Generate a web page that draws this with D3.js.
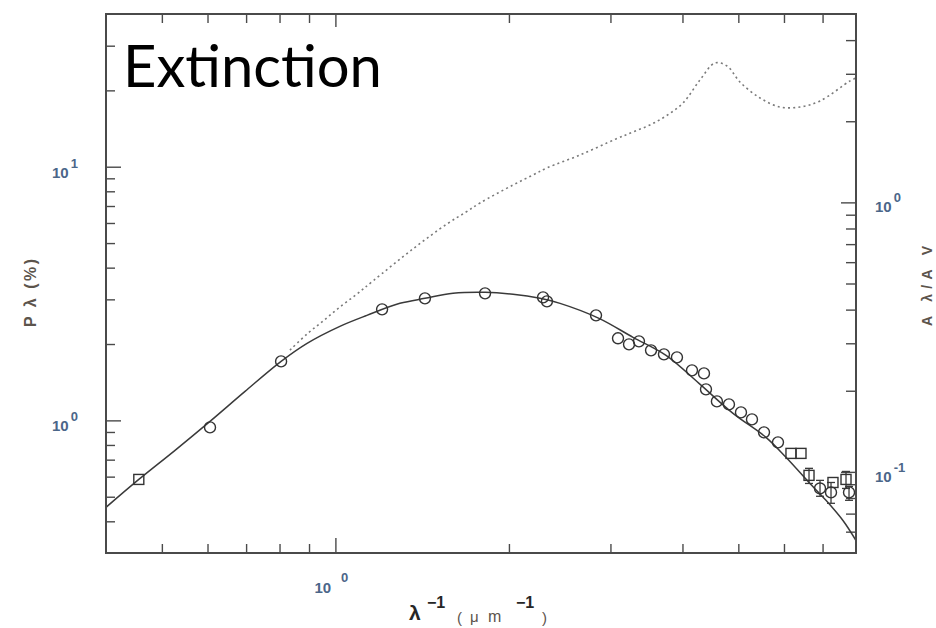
<!DOCTYPE html>
<html>
<head>
<meta charset="utf-8">
<script src="https://cdn.jsdelivr.net/npm/d3@7"></script>
<style>
  html, body { margin: 0; padding: 0; background: #fff; overflow: hidden; }
  svg { display: block; }
</style>
</head>
<body>
<svg id="chart" width="936" height="628"></svg>
<script>
// ---- axis ranges (inverse wavelength in µm^-1, polarization in %, extinction A/Av)
const xDomain = [0.4, 8];
const pDomain = [0.3, 40];
const aDomain = [0.05, 5];

// ---- tick values
const xMajorTicks = [1];
const xMinorTicks = [0.5, 0.6, 0.7, 0.8, 0.9, 2, 3, 4, 5, 6, 7];
const pMajorTicks = [1, 10];
const pMinorTicks = [0.4, 0.5, 0.6, 0.7, 0.8, 0.9, 2, 3, 4, 5, 6, 7, 8, 9, 20, 30];
const aMajorTicks = [0.1, 1];
const aMinorTicks = [0.06, 0.07, 0.08, 0.09, 0.2, 0.3, 0.4, 0.5, 0.6, 0.7, 0.8, 0.9, 2, 3, 4];

// ---- tick labels (mantissa, exponent), in the same order as the major ticks
const xTickLabels = [["10", "0"]];
const pTickLabels = [["10", "0"], ["10", "1"]];
const aTickLabels = [["10", "-1"], ["10", "0"]];

// ---- observed polarization, open circles
const circleX = [0.606, 0.805, 1.205, 1.430, 1.818, 2.292, 2.328, 2.832, 3.092, 3.231,
                 3.362, 3.528, 3.715, 3.913, 4.155, 4.359, 4.394, 4.590, 4.816, 5.053,
                 5.280, 5.540, 5.858, 6.929, 7.240, 7.780];
const circleP = [0.938, 1.708, 2.740, 3.027, 3.168, 3.055, 2.946, 2.594, 2.106, 1.994,
                 2.049, 1.888, 1.821, 1.772, 1.575, 1.532, 1.325, 1.188, 1.156, 1.075,
                 1.009, 0.897, 0.819, 0.539, 0.520, 0.520];

// ---- observed polarization, open squares
const squareX = [0.456, 6.170, 6.422, 6.631, 7.297, 7.687];
const squareP = [0.585, 0.741, 0.741, 0.607, 0.569, 0.585];

// ---- error bars on the far-UV points
const errX  = [6.631, 6.929, 7.240, 7.687, 7.780];
const errLo = [0.564, 0.502, 0.471, 0.539, 0.484];
const errHi = [0.647, 0.580, 0.569, 0.629, 0.549];

// ---- fitted polarization curve (solid)
const fitX = [0.400, 0.456, 0.527, 0.606, 0.697, 0.805, 0.893, 1.018, 1.134, 1.294,
              1.430, 1.600, 1.818, 2.033, 2.264, 2.453, 2.866, 3.283, 3.746, 4.273,
              4.895, 5.584, 6.048, 6.631, 7.096, 7.594, 8.000];
const fitP = [0.454, 0.585, 0.762, 0.991, 1.301, 1.708, 2.012, 2.348, 2.594, 2.893,
              3.027, 3.168, 3.197, 3.140, 3.027, 2.893, 2.525, 2.125, 1.804, 1.399,
              1.066, 0.857, 0.715, 0.569, 0.484, 0.403, 0.336];

// ---- interstellar extinction curve A(lambda)/A(V) (dotted, right axis)
const extX = [0.834, 0.893, 0.952, 1.018, 1.090, 1.162, 1.363, 1.562, 1.685, 1.782,
              2.033, 2.202, 2.328, 2.657, 3.067, 3.283, 3.513, 3.746, 4.009, 4.290,
              4.555, 4.779, 5.032, 5.452, 5.905, 6.397, 6.929, 7.808, 8.000];
const extA = [0.283, 0.325, 0.363, 0.409, 0.457, 0.511, 0.672, 0.832, 0.921, 0.995,
              1.160, 1.264, 1.342, 1.499, 1.719, 1.825, 1.938, 2.092, 2.338, 2.846,
              3.291, 3.207, 2.798, 2.440, 2.259, 2.259, 2.378, 2.822, 2.894];

// ---- layout
const plot = { left: 106, right: 856, top: 14, bottom: 553 };
const frameColor = "#4a4a4a";
const tickLabelColor = "#4b6689";
const titleColor = "#5c544c";
const sansFont = "'Liberation Sans', Arial, sans-serif";

const svg = d3.select("#chart");

const x  = d3.scaleLog().domain(xDomain).range([plot.left, plot.right]);
const yP = d3.scaleLog().domain(pDomain).range([plot.bottom, plot.top]);
const yA = d3.scaleLog().domain(aDomain).range([plot.bottom, plot.top]);

svg.append("defs").append("clipPath").attr("id", "plot-clip")
  .append("rect")
  .attr("x", plot.left).attr("y", plot.top)
  .attr("width", plot.right - plot.left).attr("height", plot.bottom - plot.top);

// ---- inward ticks on all four sides
function drawTicks(axisFn, scale, values, size, transform) {
  const g = svg.append("g")
    .attr("transform", transform)
    .call(axisFn(scale).tickValues(values).tickSize(-size).tickFormat(""));
  g.select(".domain").remove();
  g.selectAll(".tick line").attr("stroke", frameColor).attr("stroke-width", 1.4);
}
const MAJOR = 15, MINOR = 9;
drawTicks(d3.axisBottom, x, xMinorTicks, MINOR, `translate(0,${plot.bottom})`);
drawTicks(d3.axisBottom, x, xMajorTicks, MAJOR, `translate(0,${plot.bottom})`);
drawTicks(d3.axisTop, x, xMinorTicks, MINOR, `translate(0,${plot.top})`);
drawTicks(d3.axisTop, x, xMajorTicks, 13, `translate(0,${plot.top})`);
drawTicks(d3.axisLeft, yP, pMinorTicks, MINOR, `translate(${plot.left},0)`);
drawTicks(d3.axisLeft, yP, pMajorTicks, MAJOR, `translate(${plot.left},0)`);
drawTicks(d3.axisRight, yA, aMinorTicks, 10, `translate(${plot.right},0)`);
drawTicks(d3.axisRight, yA, aMajorTicks, MAJOR, `translate(${plot.right},0)`);

// ---- curves
const plotArea = svg.append("g").attr("clip-path", "url(#plot-clip)");

const extLine = d3.line()
  .x((d, i) => x(extX[i]))
  .y((d, i) => yA(extA[i]))
  .curve(d3.curveCatmullRom.alpha(0.5));
plotArea.append("path")
  .datum(extX)
  .attr("d", extLine)
  .attr("fill", "none")
  .attr("stroke", "#7a7a7a")
  .attr("stroke-width", 1.6)
  .attr("stroke-dasharray", "2,3.2");

const fitLine = d3.line()
  .x((d, i) => x(fitX[i]))
  .y((d, i) => yP(fitP[i]))
  .curve(d3.curveCatmullRom.alpha(0.5));
plotArea.append("path")
  .datum(fitX)
  .attr("d", fitLine)
  .attr("fill", "none")
  .attr("stroke", "#3a3a3a")
  .attr("stroke-width", 1.5);

// ---- error bars
const errG = svg.append("g").attr("stroke", "#3a3a3a").attr("stroke-width", 1.3);
errX.forEach((xv, i) => {
  const cx = x(xv);
  errG.append("line").attr("x1", cx).attr("x2", cx)
    .attr("y1", yP(errLo[i])).attr("y2", yP(errHi[i]));
  [errLo[i], errHi[i]].forEach(v => {
    errG.append("line").attr("x1", cx - 4).attr("x2", cx + 4)
      .attr("y1", yP(v)).attr("y2", yP(v));
  });
});

// ---- markers
svg.append("g").selectAll("circle")
  .data(circleX)
  .join("circle")
  .attr("cx", (d) => x(d))
  .attr("cy", (d, i) => yP(circleP[i]))
  .attr("r", 5.5)
  .attr("fill", "none")
  .attr("stroke", "#333")
  .attr("stroke-width", 1.4);

const SQ = 10;
svg.append("g").selectAll("rect")
  .data(squareX)
  .join("rect")
  .attr("x", (d) => x(d) - SQ / 2)
  .attr("y", (d, i) => yP(squareP[i]) - SQ / 2)
  .attr("width", SQ).attr("height", SQ)
  .attr("fill", "none")
  .attr("stroke", "#333")
  .attr("stroke-width", 1.4);

// ---- frame
svg.append("rect")
  .attr("x", plot.left).attr("y", plot.top)
  .attr("width", plot.right - plot.left).attr("height", plot.bottom - plot.top)
  .attr("fill", "none")
  .attr("stroke", frameColor)
  .attr("stroke-width", 2);

// ---- power-of-ten tick labels
function powerLabel(px, py, parts, expDx, expDy) {
  const t = svg.append("text")
    .attr("x", px).attr("y", py)
    .attr("font-family", sansFont)
    .attr("font-weight", "bold")
    .attr("fill", tickLabelColor);
  t.append("tspan").attr("font-size", 15).text(parts[0]);
  t.append("tspan").attr("font-size", 13).attr("dx", expDx).attr("dy", expDy).text(parts[1]);
}
pMajorTicks.forEach((v, i) => {
  powerLabel(plot.left - 54, yP(v) + 11, pTickLabels[i], 2, -10);
});
aMajorTicks.forEach((v, i) => {
  powerLabel(plot.right + 19, yA(v) + 10, aTickLabels[i], 2, -10);
});
xMajorTicks.forEach((v, i) => {
  powerLabel(x(v) - 21, 593, xTickLabels[i], 10, -11);
});

// ---- axis titles
const bottomTitle = svg.append("g").attr("font-family", sansFont);
bottomTitle.append("text").attr("x", 409).attr("y", 620)
  .attr("font-size", 21).attr("font-weight", "bold").attr("fill", "#262626").text("λ");
bottomTitle.append("text").attr("x", 427).attr("y", 608)
  .attr("font-size", 16).attr("font-weight", "bold").attr("fill", "#262626").text("−1");
bottomTitle.append("text").attr("x", 457).attr("y", 623)
  .attr("font-size", 15).attr("fill", titleColor).text("(");
bottomTitle.append("text").attr("x", 470).attr("y", 622)
  .attr("font-size", 15).attr("fill", titleColor).text("μ");
bottomTitle.append("text").attr("x", 488).attr("y", 622)
  .attr("font-size", 16).attr("fill", titleColor).text("m");
bottomTitle.append("text").attr("x", 516).attr("y", 608)
  .attr("font-size", 16).attr("font-weight", "bold").attr("fill", "#262626").text("−1");
bottomTitle.append("text").attr("x", 542).attr("y", 623)
  .attr("font-size", 15).attr("fill", titleColor).text(")");

svg.append("text")
  .attr("transform", "translate(36,293) rotate(-90)")
  .attr("text-anchor", "middle")
  .attr("font-family", sansFont)
  .attr("font-size", 16)
  .attr("font-weight", "bold")
  .attr("fill", titleColor)
  .attr("textLength", 68)
  .attr("lengthAdjust", "spacing")
  .text("P λ (%)");

svg.append("text")
  .attr("transform", "translate(932,286) rotate(-90)")
  .attr("text-anchor", "middle")
  .attr("font-family", sansFont)
  .attr("font-size", 14)
  .attr("font-weight", "bold")
  .attr("fill", titleColor)
  .attr("textLength", 80)
  .attr("lengthAdjust", "spacing")
  .text("A λ/A V");

// ---- panel caption
const caption = svg.append("text")
  .attr("x", 123).attr("y", 87)
  .attr("font-family", "Lato, 'Open Sans', sans-serif")
  .attr("font-size", 60)
  .attr("fill", "#000")
  .text("Extinction");
const capW = caption.node().getComputedTextLength();
caption.attr("font-size", 60 * 259 / capW);
</script>
</body>
</html>
